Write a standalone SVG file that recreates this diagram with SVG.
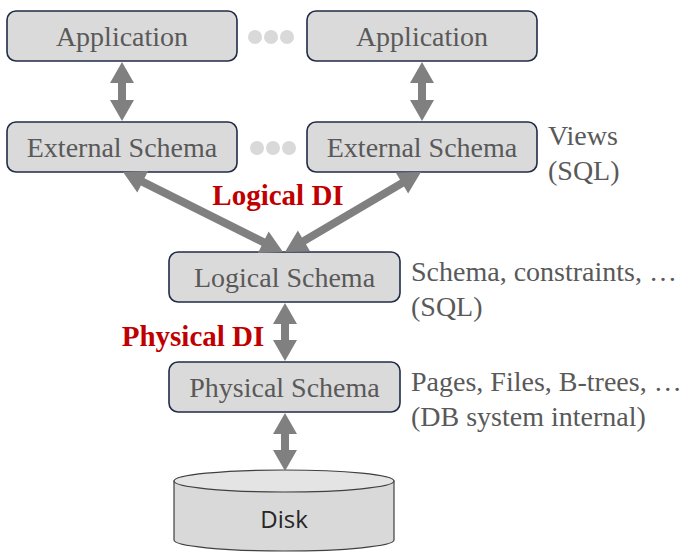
<svg xmlns="http://www.w3.org/2000/svg" width="689" height="557" viewBox="0 0 689 557">
<style>
.box{fill:#dadada;stroke:#1f2b47;stroke-width:1.6}
.bt{font-family:"Liberation Serif","DejaVu Serif",serif;font-size:28px;fill:#595959;text-anchor:middle}
.note{font-family:"Liberation Serif","DejaVu Serif",serif;font-size:28px;fill:#595959}
.di{font-family:"Liberation Serif","DejaVu Serif",serif;font-size:29px;font-weight:bold;fill:#c00000;text-anchor:middle}
.arr{fill:#808080}
.dot{fill:#d9d9d9}
</style>
<rect width="689" height="557" fill="#ffffff"/>
<g id="app1"><rect class="box" x="7" y="11" width="230" height="50" rx="9"/><text class="bt" x="122" y="46">Application</text></g>
<g id="app2"><rect class="box" x="307" y="11" width="230" height="50" rx="9"/><text class="bt" x="422" y="46">Application</text></g>
<g id="dots1"><circle class="dot" cx="255" cy="37" r="7"/><circle class="dot" cx="271" cy="37" r="7"/><circle class="dot" cx="287" cy="37" r="7"/></g>
<g id="ext1"><rect class="box" x="7" y="122" width="230" height="50" rx="9"/><text class="bt" x="122" y="157">External Schema</text></g>
<g id="ext2"><rect class="box" x="307" y="122" width="230" height="50" rx="9"/><text class="bt" x="422" y="157">External Schema</text></g>
<g id="dots2"><circle class="dot" cx="257" cy="148" r="7"/><circle class="dot" cx="273" cy="148" r="7"/><circle class="dot" cx="289" cy="148" r="7"/></g>
<g id="views"><text class="note" x="548" y="145">Views</text><text class="note" x="548" y="180">(SQL)</text></g>
<g id="logical"><rect class="box" x="169" y="252" width="231" height="50" rx="9"/><text class="bt" x="284.5" y="287">Logical Schema</text></g>
<g id="lognote"><text class="note" x="411" y="281">Schema, constraints, …</text><text class="note" x="411" y="316">(SQL)</text></g>
<g id="physical"><rect class="box" x="169" y="362" width="231" height="50" rx="9"/><text class="bt" x="284.5" y="397">Physical Schema</text></g>
<g id="physnote"><text class="note" x="411" y="391">Pages, Files, B-trees, …</text><text class="note" x="411" y="426">(DB system internal)</text></g>
<g id="disk">
<path d="M174,481 L174,540 A110,11 0 0 0 394,540 L394,481 Z" fill="#d9d9d9" stroke="#404040" stroke-width="1.2"/>
<ellipse cx="284" cy="481" rx="110" ry="11" fill="#e4e4e4" stroke="#404040" stroke-width="1.2"/>
<text x="284" y="528" font-family="'Open Sans','Noto Sans',sans-serif" font-size="24" fill="#262626" text-anchor="middle">Disk</text>
</g>
<g id="connectors">
<polygon class="arr" points="122,62 134,83 126,83 126,100 134,100 122,121 110,100 118,100 118,83 110,83"/>
<polygon class="arr" points="422,62 434,83 426,83 426,100 434,100 422,121 410,100 418,100 418,83 410,83"/>
<polygon class="arr" points="285,303 297,324 289,324 289,340 297,340 285,361 273,340 281,340 281,324 273,324"/>
<polygon class="arr" points="285,413 297,434 289,434 289,450 297,450 285,471 273,450 281,450 281,434 273,434"/>
<polygon class="arr" transform="translate(123,172) rotate(26.57)" points="0,0 22,-12 22,-4 156.9,-4 156.9,-12 178.9,0 156.9,12 156.9,4 22,4 22,12"/>
<polygon class="arr" transform="translate(421,172) rotate(149.53)" points="0,0 22,-12 22,-4 135.8,-4 135.8,-12 157.8,0 135.8,12 135.8,4 22,4 22,12"/>
</g>
<g id="labels">
<text class="di" x="278" y="205">Logical DI</text>
<text class="di" x="193" y="346">Physical DI</text>
</g>
</svg>
